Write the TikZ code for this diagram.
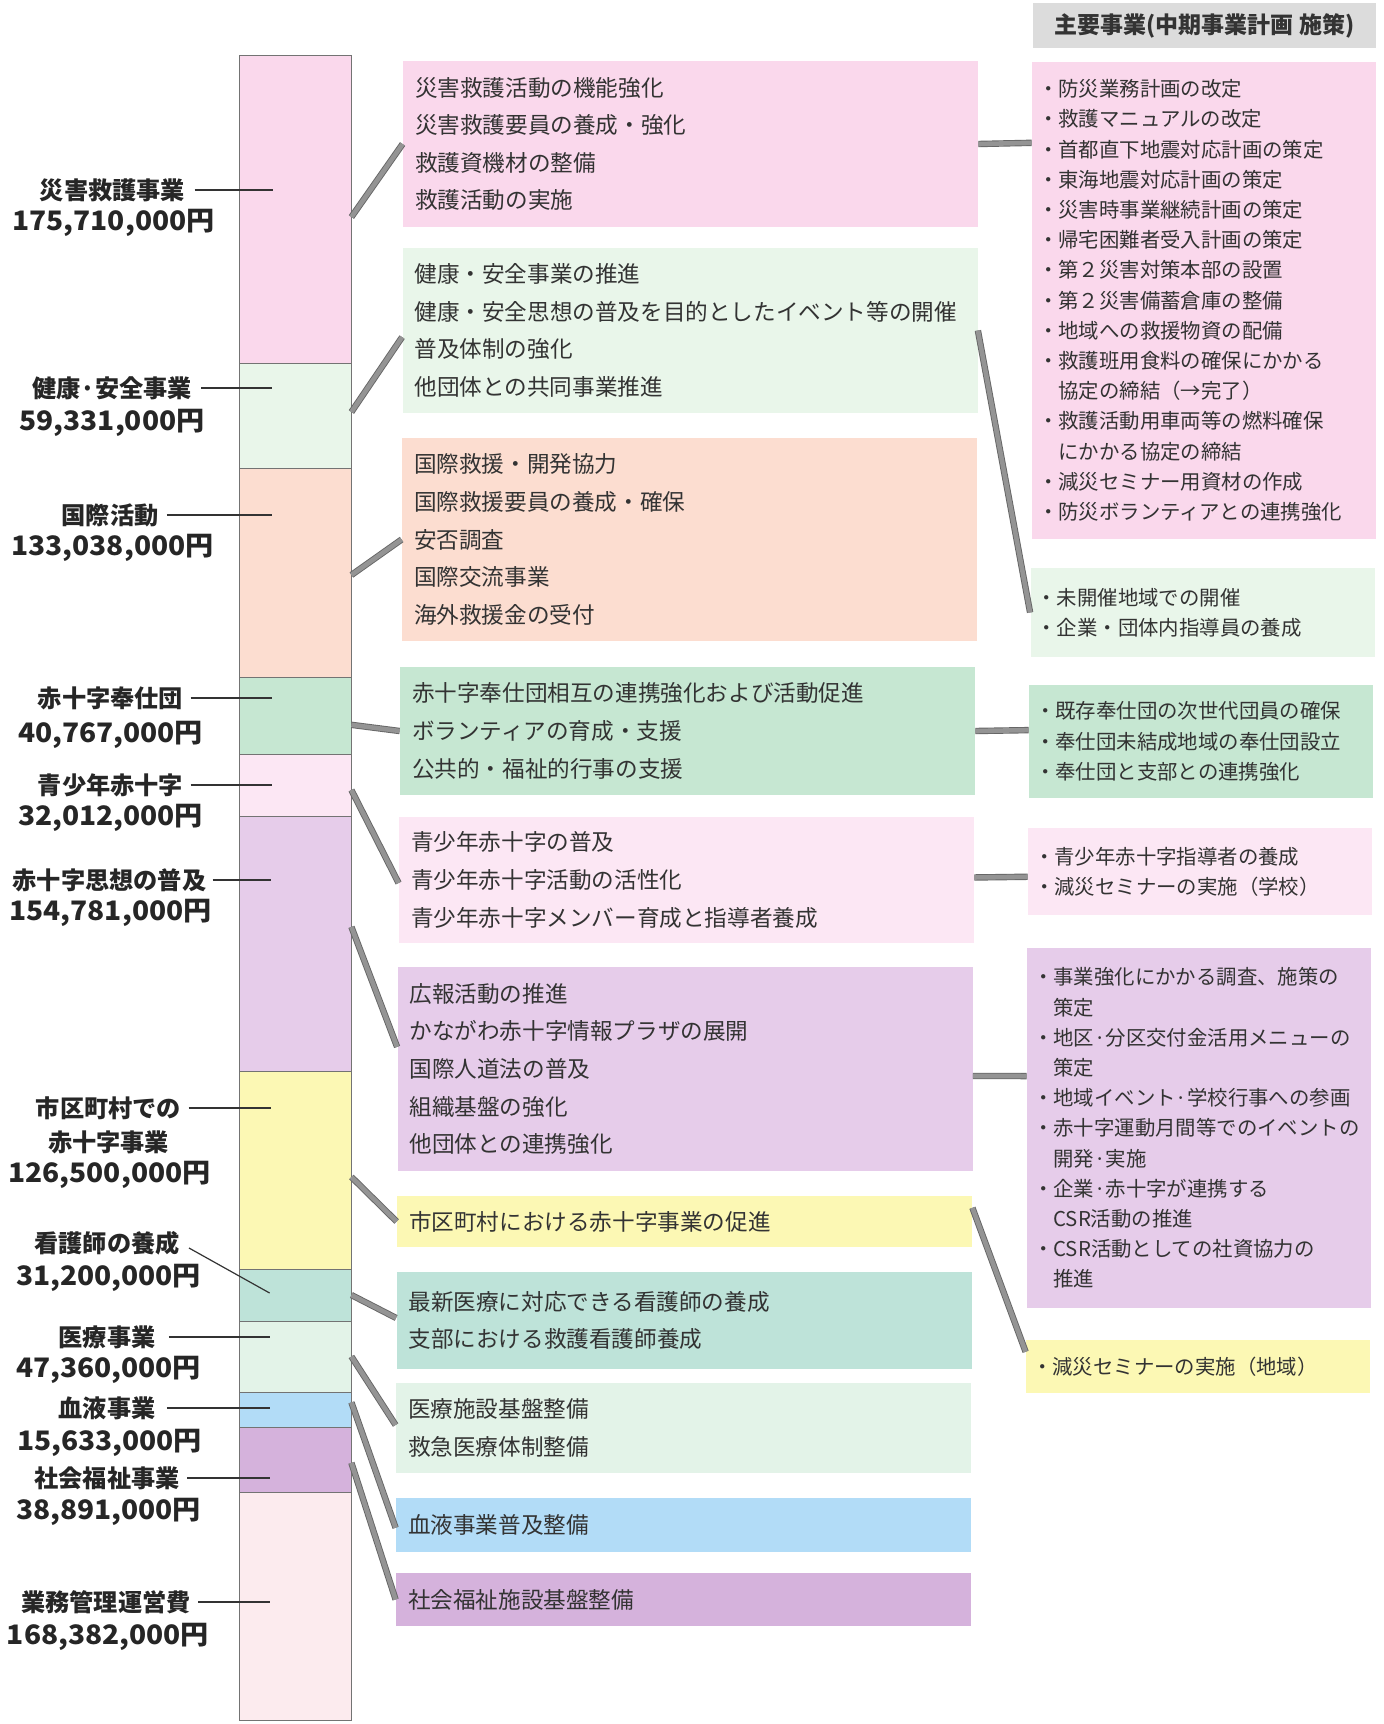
\documentclass[tikz,border=0pt]{standalone}
\usepackage{fontspec}
\setmainfont{Noto Sans CJK JP}
\newfontfamily\numfnt{Noto Sans CJK JP}[FakeStretch=1.05]
\usetikzlibrary{calc}
\definecolor{cPink}{HTML}{FAD8EC}
\definecolor{cLGreen}{HTML}{E9F6EA}
\definecolor{cSalmon}{HTML}{FCDDD0}
\definecolor{cGreen}{HTML}{C6E7D2}
\definecolor{cLPink}{HTML}{FCE7F4}
\definecolor{cPurple}{HTML}{E6CCEA}
\definecolor{cYellow}{HTML}{FCF8B4}
\definecolor{cTeal}{HTML}{BEE3D9}
\definecolor{cMint}{HTML}{E3F3E8}
\definecolor{cBlue}{HTML}{B2DCF7}
\definecolor{cViolet}{HTML}{D5B2DC}
\definecolor{cRose}{HTML}{FCEBEE}
\definecolor{cHead}{HTML}{DCDCDC}
\definecolor{cText}{HTML}{333333}
\newcommand\midtxt{\fontsize{11.3pt}{18.8pt}\selectfont}
\newcommand\rgttxt{\fontsize{10.2pt}{15.1pt}\selectfont}
\newcommand\labtxt{\bfseries\fontsize{12.1pt}{14pt}\selectfont}
\newcommand\amttxt{\numfnt\bfseries\fontsize{13.4pt}{15pt}\selectfont}
\newcommand\hd{\hphantom{・}}
\begin{document}
\begin{tikzpicture}[x=0.5pt,y=-0.5pt,
  seg/.style={draw=black!55, line width=0.4pt, minimum width=56pt, inner sep=0pt},
  mbox/.style={inner xsep=6pt, inner ysep=0pt, text width=275.5pt, align=left, font=\midtxt, text=cText},
  rbox/.style={inner xsep=3pt, inner ysep=0pt, text width=166pt, align=left, font=\rgttxt, text=cText},
  lab/.style={font=\labtxt, inner sep=0pt, text=black!85},
  amt/.style={font=\amttxt, inner sep=0pt, text=black!85},
  lead/.style={draw=black!80, line width=0.6pt},
  conn/.style={draw=black!60, line width=0.45pt, double=black!42, double distance=2.3pt}
]
\useasboundingbox (0,0) rectangle (1383,1724);
\fill[white] (0,0) rectangle (1383,1724);

% ---- bar segments
\node[seg, fill=cPink,   minimum height=154pt]  (s1)  at (295,209) {};
\node[seg, fill=cLGreen, minimum height=52.5pt] (s2)  at (295,415.5) {};
\node[seg, fill=cSalmon, minimum height=104.5pt](s3)  at (295,572.5) {};
\node[seg, fill=cGreen,  minimum height=38.5pt] (s4)  at (295,715.5) {};
\node[seg, fill=cLPink,  minimum height=31pt]   (s5)  at (295,785) {};
\node[seg, fill=cPurple, minimum height=127.5pt](s6)  at (295,943.5) {};
\node[seg, fill=cYellow, minimum height=99pt]   (s7)  at (295,1170) {};
\node[seg, fill=cTeal,   minimum height=26pt]   (s8)  at (295,1295) {};
\node[seg, fill=cMint,   minimum height=35.5pt] (s9)  at (295,1356.5) {};
\node[seg, fill=cBlue,   minimum height=17.5pt] (s10) at (295,1409.5) {};
\node[seg, fill=cViolet, minimum height=32.5pt] (s11) at (295,1459.5) {};
\node[seg, fill=cRose,   minimum height=114pt]  (s12) at (295,1606) {};

% ---- left labels
\node[lab] (l1) at (112.5,190) {災害救護事業};
\node[amt] (a1) at (113.5,223) {175,710,000円};
\node[lab] (l2) at (112,388) {健康·安全事業};
\node[amt] (a2) at (112,423) {59,331,000円};
\node[lab] (l3) at (110,515) {国際活動};
\node[amt] (a3) at (112.5,548) {133,038,000円};
\node[lab] (l4) at (110.5,698) {赤十字奉仕団};
\node[amt] (a4) at (110.5,735) {40,767,000円};
\node[lab] (l5) at (110.5,785) {青少年赤十字};
\node[amt] (a5) at (110.5,818) {32,012,000円};
\node[lab] (l6) at (109.5,880) {赤十字思想の普及};
\node[amt] (a6) at (110.5,913) {154,781,000円};
\node[lab] (l7) at (108.5,1108) {市区町村での};
\node[lab] (l7b) at (108.5,1142) {赤十字事業};
\node[amt] (a7) at (109.5,1175) {126,500,000円};
\node[lab] (l8) at (107,1243) {看護師の養成};
\node[amt] (a8) at (108.5,1278) {31,200,000円};
\node[lab] (l9) at (107,1337) {医療事業};
\node[amt] (a9) at (108.5,1370) {47,360,000円};
\node[lab] (l10) at (107,1408) {血液事業};
\node[amt] (a10) at (109.5,1443) {15,633,000円};
\node[lab] (l11) at (107,1478) {社会福祉事業};
\node[amt] (a11) at (108.5,1512) {38,891,000円};
\node[lab] (l12) at (106,1602) {業務管理運営費};
\node[amt] (a12) at (108,1637) {168,382,000円};

% ---- leader lines
\draw[lead] ($(l1.east)+(9,0)$) -- ($(l1.east -| s1.west)+(34,0)$);
\draw[lead] ($(l2.east)+(9,0)$) -- ($(l2.east -| s2.west)+(33,0)$);
\draw[lead] ($(l3.east)+(8,0)$) -- ($(l3.east -| s3.west)+(33,0)$);
\draw[lead] ($(l4.east)+(7,0)$) -- ($(l4.east -| s4.west)+(33,0)$);
\draw[lead] ($(l5.east)+(7,0)$) -- ($(l5.east -| s5.west)+(33,0)$);
\draw[lead] ($(l6.east)+(6,0)$) -- ($(l6.east -| s6.west)+(32,0)$);
\draw[lead] ($(l7.east)+(7,0)$) -- ($(l7.east -| s7.west)+(32,0)$);
\draw[lead] ($(l8.east)+(9,5)$) -- ($(s8.west)+(31,-2)$);
\draw[lead] ($(l9.east)+(13,0)$) -- ($(l9.east -| s9.west)+(31,0)$);
\draw[lead] ($(l10.east)+(11,0)$) -- ($(l10.east -| s10.west)+(31,0)$);
\draw[lead] ($(l11.east)+(7,0)$) -- ($(l11.east -| s11.west)+(31,0)$);
\draw[lead] ($(l12.east)+(7,0)$) -- ($(l12.east -| s12.west)+(31,0)$);

% ---- middle boxes
\node[mbox, fill=cPink, minimum height=83pt] (m1) at (690.5,144)
  {災害救護活動の機能強化\\災害救護要員の養成・強化\\救護資機材の整備\\救護活動の実施};
\node[mbox, fill=cLGreen, minimum height=82.5pt] (m2) at (690,330.5)
  {健康・安全事業の推進\\健康・安全思想の普及を目的としたイベント等の開催\\普及体制の強化\\他団体との共同事業推進};
\node[mbox, fill=cSalmon, minimum height=101.5pt] (m3) at (689.5,539.5)
  {国際救援・開発協力\\国際救援要員の養成・確保\\安否調査\\国際交流事業\\海外救援金の受付};
\node[mbox, fill=cGreen, minimum height=64pt] (m4) at (687.5,731)
  {赤十字奉仕団相互の連携強化および活動促進\\ボランティアの育成・支援\\公共的・福祉的行事の支援};
\node[mbox, fill=cLPink, minimum height=63pt] (m5) at (686.5,880)
  {青少年赤十字の普及\\青少年赤十字活動の活性化\\青少年赤十字メンバー育成と指導者養成};
\node[mbox, fill=cPurple, minimum height=102pt] (m6) at (685,1069)
  {広報活動の推進\\かながわ赤十字情報プラザの展開\\国際人道法の普及\\組織基盤の強化\\他団体との連携強化};
\node[mbox, fill=cYellow, minimum height=25.5pt] (m7) at (684.5,1221.5)
  {市区町村における赤十字事業の促進};
\node[mbox, fill=cTeal, minimum height=48.5pt] (m8) at (684,1320.5)
  {最新医療に対応できる看護師の養成\\支部における救護看護師養成};
\node[mbox, fill=cMint, minimum height=45pt] (m9) at (683.5,1428)
  {医療施設基盤整備\\救急医療体制整備};
\node[mbox, fill=cBlue, minimum height=27pt] (m10) at (683.5,1525)
  {血液事業普及整備};
\node[mbox, fill=cViolet, minimum height=26.5pt] (m11) at (683.5,1599.5)
  {社会福祉施設基盤整備};

% ---- right column
\node[fill=cHead, minimum width=171.5pt, minimum height=22.5pt, inner sep=0pt,
      font=\bfseries\fontsize{11.5pt}{13pt}\selectfont, text=cText] (hd) at (1204.5,25.5)
  {主要事業(中期事業計画 施策)};
\node[rbox, fill=cPink, minimum height=238.5pt] (rA) at (1204,300.5)
  {・防災業務計画の改定\\・救護マニュアルの改定\\・首都直下地震対応計画の策定\\・東海地震対応計画の策定\\
   ・災害時事業継続計画の策定\\・帰宅困難者受入計画の策定\\・第２災害対策本部の設置\\・第２災害備蓄倉庫の整備\\
   ・地域への救援物資の配備\\・救護班用食料の確保にかかる\\\hd 協定の締結（→完了）\\
   ・救護活動用車両等の燃料確保\\\hd にかかる協定の締結\\・減災セミナー用資材の作成\\・防災ボランティアとの連携強化};
\node[rbox, fill=cLGreen, minimum height=44.5pt] (rB) at (1202.5,612.5)
  {・未開催地域での開催\\・企業・団体内指導員の養成};
\node[rbox, fill=cGreen, minimum height=56.5pt] (rC) at (1201,741.5)
  {・既存奉仕団の次世代団員の確保\\・奉仕団未結成地域の奉仕団設立\\・奉仕団と支部との連携強化};
\node[rbox, fill=cLPink, minimum height=43.5pt] (rD) at (1200,871.5)
  {・青少年赤十字指導者の養成\\・減災セミナーの実施（学校）};
\node[rbox, fill=cPurple, minimum height=180pt] (rE) at (1199,1128)
  {・事業強化にかかる調査、施策の\\\hd 策定\\・地区·分区交付金活用メニューの\\\hd 策定\\
   ・地域イベント·学校行事への参画\\・赤十字運動月間等でのイベントの\\\hd 開発·実施\\
   ・企業·赤十字が連携する\\\hd CSR活動の推進\\・CSR活動としての社資協力の\\\hd 推進};
\node[rbox, fill=cYellow, minimum height=26.5pt] (rF) at (1198,1366.5)
  {・減災セミナーの実施（地域）};

% ---- connectors bar -> middle
\draw[conn] ($(s1.north east)!0.526!(s1.south east)$) -- (m1.west);
\draw[conn] ($(s2.north east)!0.467!(s2.south east)$) -- ($(m2.north west)!0.54!(m2.south west)$);
\draw[conn] ($(s3.north east)!0.512!(s3.south east)$) -- (m3.west);
\draw[conn] ($(s4.north east)!0.62!(s4.south east)$) -- (m4.west);
\draw[conn] ($(s5.north east)!0.58!(s5.south east)$) -- ($(m5.north west)!0.524!(m5.south west)$);
\draw[conn] ($(s6.north east)!0.435!(s6.south east)$) -- ($(m6.north west)!0.392!(m6.south west)$);
\draw[conn] ($(s7.north east)!0.535!(s7.south east)$) -- (m7.west);
\draw[conn] ($(s8.north east)!0.5!(s8.south east)$) -- ($(m8.north west)!0.474!(m8.south west)$);
\draw[conn] ($(s9.north east)!0.5!(s9.south east)$) -- ($(m9.north west)!0.467!(m9.south west)$);
\draw[conn] ($(s10.north east)!0.3!(s10.south east)$) -- ($(m10.north west)!0.55!(m10.south west)$);
\draw[conn] ($(s11.north east)!0.55!(s11.south east)$) -- (m11.west);

% ---- connectors middle -> right
\draw[conn] (m1.east) -- ($(rA.north west)!0.17!(rA.south west)$);
\draw[conn] (m2.east) -- (rB.west);
\draw[conn] (m4.east) -- ($(rC.north west)!0.40!(rC.south west)$);
\draw[conn] ($(m5.north east)!0.48!(m5.south east)$) -- ($(rD.north west)!0.56!(rD.south west)$);
\draw[conn] ($(m6.north east)!0.534!(m6.south east)$) -- ($(rE.north west)!0.356!(rE.south west)$);
\draw[conn] ($(m7.north east)!0.235!(m7.south east)$) -- ($(rF.north west)!0.226!(rF.south west)$);
\end{tikzpicture}
\end{document}
